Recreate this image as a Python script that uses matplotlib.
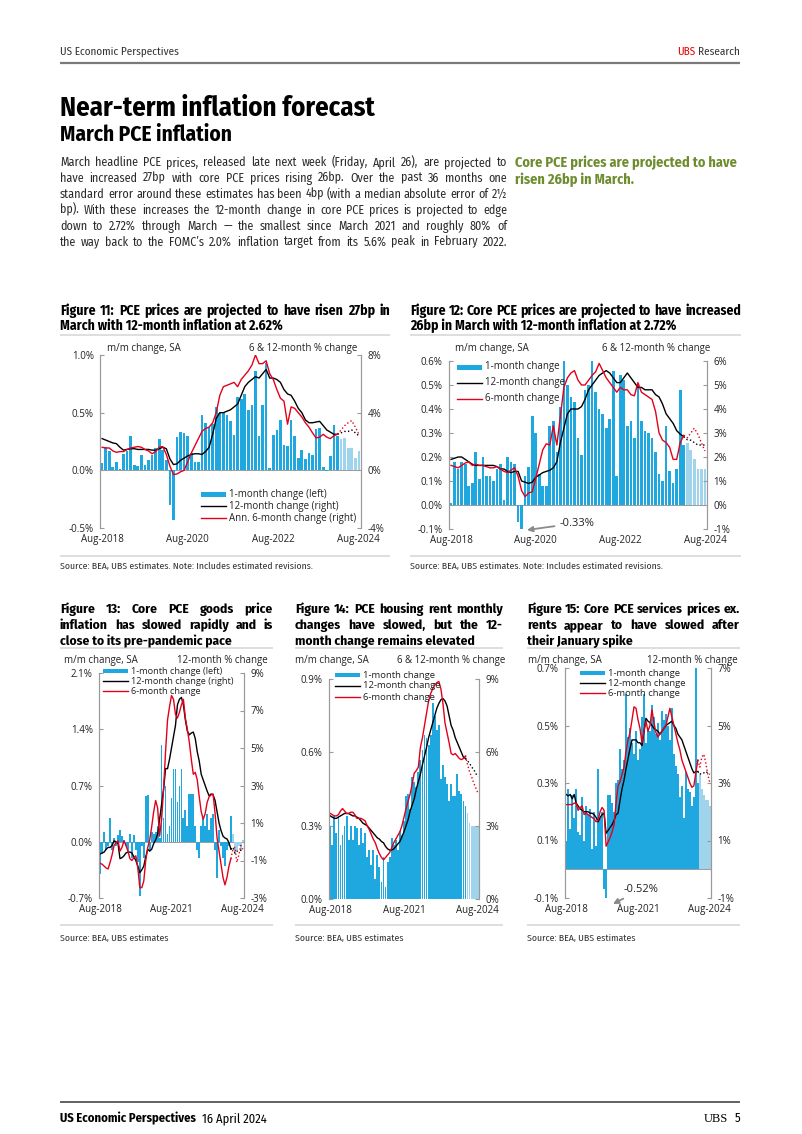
import numpy as np
import pandas as pd
import matplotlib
matplotlib.use('Agg')
import matplotlib.pyplot as plt
from matplotlib import font_manager as fm
from matplotlib.patches import Rectangle

# ---- data (monthly, Aug-2018 .. Aug-2024; Mar-2024 onward are UBS estimates) ----
months = pd.date_range('2018-08-01', '2024-08-01', freq='MS')
n_actual = 67  # through Feb-2024

# Figure 11: headline PCE
pce_mm = [0.06, 0.20, 0.17, 0.03, 0.07, 0.01, 0.14, 0.17, 0.30, 0.05, 0.04, 0.13,
          0.05, 0.09, 0.13, 0.19, 0.27, 0.18, 0.09, -0.30, -0.43,
          0.29, 0.33, 0.32, 0.30, 0.15, 0.07, 0.07, 0.48, 0.41, 0.38, 0.40,
          0.55, 0.50, 0.50, 0.48, 0.43, 0.31, 0.64, 0.62, 0.66, 0.52, 0.57, 0.86,
          0.30, 0.57, 0.93, 0.02, 0.31, 0.35, 0.44, 0.22, 0.21, 0.44, 0.30, 0.11,
          0.18, 0.10, 0.15, 0.13, 0.36, 0.37, 0.03, -0.01, 0.12, 0.39, 0.30,
          0.27, 0.28, 0.19, 0.19, 0.11, 0.17]
pce_12m = [2.2, 2.1, 2.0, 1.9, 1.85, 1.6, 1.4, 1.45, 1.5, 1.5, 1.45, 1.45,
           1.45, 1.45, 1.4, 1.4, 1.5, 1.6, 1.5, 0.8, 0.4, 0.45, 0.7, 0.85,
           1.0, 1.1, 1.15, 1.15, 1.1, 1.3, 1.6, 2.5, 3.6, 4.0, 4.0, 4.1,
           4.2, 4.4, 4.6, 5.2, 5.8, 6.1, 6.3, 6.5, 6.4, 6.7, 7.0, 6.4,
           6.4, 6.3, 6.1, 5.6, 5.3, 5.2, 4.8, 4.3, 4.0, 3.5, 3.3, 3.3,
           3.35, 3.4, 3.1, 2.8, 2.65, 2.5, 2.5, 2.6, 2.7, 2.7, 2.8, 2.6, 2.4]
pce_6m = [1.6, 1.55, 1.55, 1.35, 1.25, 1.3, 1.3, 1.45, 1.55, 1.6, 1.65, 1.6,
          1.45, 1.35, 1.15, 1.3, 1.6, 1.65, 1.1, 0.3, -0.3, -0.25, -0.1, 0.0,
          0.6, 1.2, 1.7, 2.2, 2.7, 2.9, 3.0, 3.3, 4.0, 5.2, 5.8, 5.9,
          6.0, 6.1, 5.8, 6.3, 6.6, 6.9, 7.3, 8.0, 7.4, 7.4, 7.6, 6.7,
          6.3, 5.6, 5.0, 4.8, 3.2, 4.4, 4.3, 4.0, 3.7, 3.3, 3.0, 2.6,
          2.25, 2.3, 2.5, 2.3, 2.2, 2.4, 2.5, 2.8, 3.1, 3.3, 3.45, 3.0, 2.5]

# Figure 12: core PCE
core_mm = [0.01, 0.18, 0.15, 0.18, 0.17, 0.08, 0.09, 0.22, 0.11, 0.20, 0.12, 0.12,
           0.10, 0.15, 0.17, 0.02, 0.20, 0.18, 0.17, -0.07, -0.33, 0.12, 0.16, 0.37,
           0.30, 0.13, 0.08, 0.08, 0.33, 0.35, 0.22, 0.41, 0.60, 0.50, 0.45, 0.43,
           0.28, 0.21, 0.48, 0.50, 0.60, 0.47, 0.40, 0.38, 0.32, 0.36, 0.56, 0.12,
           0.54, 0.52, 0.33, 0.35, 0.28, 0.50, 0.35, 0.31, 0.30, 0.28, 0.22, 0.13,
           0.10, 0.33, 0.14, 0.09, 0.15, 0.48, 0.25, 0.26, 0.23, 0.19, 0.15, 0.15, 0.15]
core_12m = [1.9, 1.95, 2.0, 2.0, 1.9, 1.8, 1.7, 1.65, 1.65, 1.65, 1.65, 1.65,
            1.65, 1.6, 1.5, 1.5, 1.4, 1.35, 1.4, 1.4, 1.0, 0.95, 0.9, 0.95,
            1.15, 1.25, 1.35, 1.4, 1.45, 1.55, 1.8, 2.6, 3.2, 3.8, 4.0, 4.0,
            4.0, 4.1, 4.4, 4.8, 5.0, 5.2, 5.4, 5.5, 5.6, 5.5, 5.3, 5.1,
            5.1, 5.3, 5.5, 5.3, 5.1, 4.9, 4.9, 4.8, 4.8, 4.8, 4.6, 4.5,
            4.2, 3.8, 3.6, 3.4, 3.1, 2.95, 2.85, 2.72, 2.7, 2.6, 2.5, 2.5, 2.5]
core_6m = [1.65, 1.6, 1.55, 1.65, 1.75, 1.8, 1.65, 1.7, 1.65, 1.65, 1.6, 1.55,
           1.55, 1.6, 1.5, 1.4, 1.35, 1.45, 1.55, 1.2, 0.6, 0.35, 0.5, 0.55,
           1.1, 1.7, 2.3, 2.55, 2.5, 3.3, 2.5, 3.7, 4.9, 5.3, 5.5, 5.6,
           5.2, 5.0, 5.0, 5.2, 5.4, 5.55, 5.9, 5.6, 5.3, 5.1, 4.9, 4.7,
           4.9, 4.8, 4.8, 4.6, 4.55, 5.1, 4.7, 4.6, 4.5, 4.4, 3.9, 3.0,
           2.7, 2.6, 2.4, 1.9, 1.9, 2.6, 2.9, 2.8, 3.0, 3.2, 2.95, 2.6, 2.25]

# Figure 13: core PCE goods
goods_mm = [-0.40, -0.15, 0.12, -0.10, -0.05, 0.30, -0.10, 0.05, -0.05, 0.08, 0.15, 0.07,
            0.02, -0.05, -0.12, 0.10, -0.20, 0.08, -0.10, -0.25, -0.68, -0.05, -0.20, 0.57,
            0.58, -0.10, 0.12, 0.10, 0.12, 0.20, 0.05, 1.20, 0.30, 0.70, 0.10, 0.20,
            0.55, 0.90, 0.90, 0.50, 0.70, 0.90, 0.30, 0.40, 0.20, 0.60, 0.60, 0.60,
            0.20, -0.10, -0.20, 0.20, 0.30, 0.20, 0.35, 0.15, 0.30, 0.35, -0.10, -0.45,
            0.15, -0.05, -0.20, -0.30, -0.10, -0.05, 0.32, 0.10, -0.15, -0.10, -0.05, -0.12, 0.02]
goods_12m = [-0.65, -0.6, -0.55, -0.4, -0.3, -0.3, -0.2, 0.05, 0.0, -0.1, -0.9, -0.85,
             -0.75, -0.6, -0.55, -0.55, -0.6, -0.8, -1.0, -1.3, -1.65, -1.5, -1.3, -0.8,
             -0.4, -0.5, -0.4, -0.1, 0.1, 0.4, 1.2, 2.0, 2.8, 3.9, 3.9, 4.4,
             5.0, 5.6, 6.2, 7.3, 7.6, 7.7, 7.3, 6.5, 5.9, 5.7, 5.8, 5.85,
             5.5, 4.8, 4.3, 3.6, 3.3, 3.0, 2.7, 2.45, 2.55, 2.5, 2.2, 1.6,
             1.0, 0.6, 0.3, 0.2, 0.15, -0.05, -0.4, -0.3, -0.6, -0.5, -0.5, -0.45, -0.4]
goods_6m = [-1.15, -1.2, -1.3, -1.4, -1.45, -1.1, -0.7, -0.2, -0.05, 0.05, -0.5, -0.3,
            0.05, -0.2, -0.5, -0.9, -1.0, -0.85, -0.75, -1.4, -2.45, -2.45, -2.1, -1.0,
            -0.3, 0.1, 0.8, 1.6, 2.2, 1.8, 0.3, 1.2, 2.8, 4.8, 6.5, 7.2,
            7.8, 7.6, 6.8, 6.6, 6.9, 7.3, 7.6, 6.6, 6.0, 5.3, 4.4, 3.6,
            3.7, 3.3, 2.4, 1.6, 1.2, 1.5, 2.1, 2.4, 2.5, 2.55, 1.5, 0.2,
            -0.5, -1.2, -1.9, -2.3, -1.9, -1.3, -0.9, -0.4, -0.3, -1.1, -0.7, -0.2, -0.4]

# Figure 14: PCE housing rent
rent_mm = [0.30, 0.22, 0.34, 0.27, 0.34, 0.22, 0.26, 0.30, 0.34, 0.24, 0.30, 0.24,
           0.30, 0.29, 0.22, 0.29, 0.23, 0.27, 0.17, 0.20, 0.14, 0.20, 0.08, 0.18,
           0.13, 0.07, 0.17, 0.05, 0.15, 0.17, 0.25, 0.22, 0.24, 0.20, 0.28, 0.26,
           0.32, 0.42, 0.43, 0.37, 0.50, 0.48, 0.46, 0.52, 0.57, 0.61, 0.67, 0.66,
           0.63, 0.67, 0.80, 0.75, 0.69, 0.71, 0.49, 0.55, 0.50, 0.47, 0.40, 0.47,
           0.42, 0.42, 0.51, 0.44, 0.43, 0.40, 0.38, 0.35, 0.31, 0.30, 0.30, 0.30, 0.30]
rent_12m = [3.4, 3.35, 3.3, 3.3, 3.35, 3.4, 3.45, 3.5, 3.5, 3.5, 3.45, 3.4,
            3.4, 3.35, 3.3, 3.2, 3.1, 3.05, 3.0, 2.9, 2.8, 2.7, 2.6, 2.5,
            2.45, 2.35, 2.3, 2.15, 2.05, 2.0, 2.0, 2.05, 2.15, 2.25, 2.35, 2.55,
            2.75, 3.0, 3.25, 3.6, 3.85, 4.1, 4.5, 4.8, 5.1, 5.5, 5.85, 6.2,
            6.6, 6.9, 7.2, 7.5, 7.8, 8.0, 8.15, 8.2, 8.1, 7.9, 7.5, 7.1,
            6.9, 6.6, 6.4, 6.2, 6.0, 5.8, 5.75, 5.65, 5.55, 5.4, 5.3, 5.15, 5.0]
rent_6m = [3.5, 3.45, 3.4, 3.4, 3.45, 3.6, 3.7, 3.6, 3.5, 3.5, 3.55, 3.55,
           3.45, 3.3, 3.3, 3.3, 3.25, 3.2, 3.0, 2.85, 2.65, 2.45, 2.3, 2.05,
           1.85, 1.7, 1.6, 1.7, 1.8, 1.9, 2.1, 2.3, 2.45, 2.6, 2.75, 3.0,
           3.35, 3.7, 4.0, 4.3, 4.7, 5.15, 5.25, 5.4, 6.2, 6.6, 7.1, 7.6,
           8.1, 8.4, 8.6, 8.75, 8.85, 8.9, 8.6, 8.0, 7.2, 6.8, 6.4, 5.95,
           5.9, 5.95, 5.85, 5.75, 5.7, 5.75, 5.85, 5.5, 5.2, 5.0, 4.75, 4.55, 4.35]

# Figure 15: core PCE services ex rents
svc_mm = [0.10, 0.28, 0.14, 0.26, 0.18, 0.28, 0.13, 0.12, 0.25, 0.10, 0.22, 0.19,
          0.21, 0.07, 0.20, 0.08, 0.35, 0.18, 0.20, -0.07, -0.52,
          0.26, 0.26, 0.23, 0.20, 0.30, 0.31, 0.42, 0.35, 0.38, 0.61, 0.46, 0.49,
          0.44, 0.40, 0.48, 0.38, 0.42, 0.53, 0.61, 0.44, 0.49, 0.48, 0.57, 0.53,
          0.47, 0.51, 0.45, 0.55, 0.52, 0.54, 0.50, 0.45, 0.56, 0.40, 0.36, 0.33,
          0.25, 0.29, 0.18, 0.34, 0.28, 0.27, 0.22, 0.25, 0.70, 0.30,
          0.33, 0.28, 0.26, 0.24, 0.24, 0.22]
svc_12m = [2.6, 2.55, 2.6, 2.45, 2.6, 2.3, 2.2, 2.1, 2.05, 2.0, 2.0, 2.0,
           1.95, 1.95, 1.9, 1.8, 1.65, 1.8, 1.9, 1.95, 1.25, 1.35, 1.45, 1.55,
           1.7, 1.9, 1.95, 2.4, 2.8, 3.1, 3.5, 3.85, 4.2, 4.5, 4.5, 4.5,
           4.4, 4.4, 4.3, 4.8, 5.25, 5.15, 5.1, 5.0, 4.9, 4.85, 4.8, 4.7,
           4.8, 4.9, 5.0, 5.05, 5.1, 5.15, 5.0, 4.9, 4.7, 4.6, 4.5, 4.3,
           4.1, 3.9, 3.7, 3.5, 3.35, 3.4, 3.4, 3.3, 3.35, 3.35, 3.4, 3.35, 3.3]
svc_6m = [2.25, 2.25, 2.25, 2.25, 2.3, 2.3, 2.05, 2.15, 2.2, 1.9, 1.95, 1.9,
          1.85, 1.8, 1.75, 1.65, 1.7, 2.0, 2.15, 2.05, 0.8, 0.95, 1.1, 1.3,
          1.55, 2.3, 2.9, 3.05, 3.3, 3.55, 4.1, 4.5, 4.75, 5.2, 5.65, 5.6,
          5.2, 4.9, 4.4, 4.8, 5.15, 4.8, 5.0, 5.55, 5.1, 4.75, 4.6, 4.7,
          4.8, 4.9, 5.0, 5.3, 5.6, 5.3, 5.0, 4.7, 4.4, 4.15, 3.8, 3.6,
          3.4, 3.2, 3.0, 2.85, 2.9, 3.35, 3.8, 3.55, 3.9, 4.0, 3.7, 3.3, 3.0]

# ---- style ----
names = {f.name for f in fm.fontManager.ttflist}
NARROW = next((n for n in ['Fira Sans Condensed', 'Cabin Condensed', 'Asap Condensed',
                           'Roboto Condensed', 'Liberation Sans Narrow'] if n in names), 'Liberation Sans')
CHART = 'Open Sans' if 'Open Sans' in names else 'DejaVu Sans'
FAM = [NARROW, 'DejaVu Sans']
BLUE = '#1fa8e0'
LIGHT = '#9fd4ec'
RED = '#e3001b'
GRID = '#9a9a9a'
SEP = '#d8d8d8'
TXT = '#222222'

W, H = 802, 1134
fig = plt.figure(figsize=(W / 100, H / 100), dpi=100)
x = np.arange(len(months))


def ax_px(l, t, r, b):
    return fig.add_axes([l / W, 1 - b / H, (r - l) / W, (b - t) / H])


def aug_ticks(years):
    pos = [i for i, m in enumerate(months) if m.month == 8 and m.year in years]
    return pos, [months[i].strftime('%b-%Y') for i in pos]


def chart(box, bars, l12, l6, ylim, yticks, rlim, rticks, years, bw=0.75):
    ax = ax_px(*box)
    cols = [BLUE if i < n_actual else LIGHT for i in range(len(x))]
    ax.bar(x, bars, width=bw, color=cols, linewidth=0, zorder=2)
    ax.axhline(0, color=GRID, lw=0.7, zorder=1)
    ax.set_xlim(-0.6, len(x) - 0.4)
    ax.set_ylim(*ylim)
    ax.set_yticks(yticks)
    ax.set_yticklabels([f'{v:.1f}%' for v in yticks])
    pos, labs = aug_ticks(years)
    ax.set_xticks(pos)
    ax.set_xticklabels(labs)
    ax2 = ax.twinx()
    l12 = np.array(l12)
    l6 = np.array(l6)
    k = n_actual
    ax2.plot(x[:k], l12[:k], color='black', lw=1.0)
    ax2.plot(x[k - 1:], l12[k - 1:], color='black', lw=1.0, ls=':')
    ax2.plot(x[:k], l6[:k], color=RED, lw=1.0)
    ax2.plot(x[k - 1:], l6[k - 1:], color=RED, lw=1.0, ls=':')
    ax2.set_ylim(*rlim)
    ax2.set_yticks(rticks)
    ax2.set_yticklabels([f'{v:.0f}%' for v in rticks])
    for a in (ax, ax2):
        a.spines['top'].set_visible(False)
        a.spines['bottom'].set_visible(False)
        a.spines['left'].set_color(GRID)
        a.spines['right'].set_color(GRID)
        a.tick_params(axis='y', direction='in', length=3, color=GRID, labelsize=7, pad=4.5, labelcolor=TXT)
        a.tick_params(axis='x', length=0, labelsize=7, pad=4, labelcolor=TXT)
        for t in a.get_xticklabels() + a.get_yticklabels():
            t.set_family(CHART)
    return ax


chart((100, 355, 361, 528), pce_mm, pce_12m, pce_6m, (-0.5, 1.0), [-0.5, 0.0, 0.5, 1.0],
      (-4, 8), [-4, 0, 4, 8], [2018, 2020, 2022, 2024])
chart((449, 361, 707, 529), core_mm, core_12m, core_6m, (-0.1, 0.6), [-0.1, 0, 0.1, 0.2, 0.3, 0.4, 0.5, 0.6],
      (-1, 6), [-1, 0, 1, 2, 3, 4, 5, 6], [2018, 2020, 2022, 2024])
chart((99, 673, 244, 898), goods_mm, goods_12m, goods_6m, (-0.7, 2.1), [-0.7, 0.0, 0.7, 1.4, 2.1],
      (-3, 9), [-3, -1, 1, 3, 5, 7, 9], [2018, 2021, 2024], bw=0.9)
chart((329, 679, 479, 899), rent_mm, rent_12m, rent_6m, (0, 0.9), [0.0, 0.3, 0.6, 0.9],
      (0, 9), [0, 3, 6, 9], [2018, 2021, 2024], bw=0.9)
chart((565, 668, 711, 898), svc_mm, svc_12m, svc_6m, (-0.1, 0.7), [-0.1, 0.1, 0.3, 0.5, 0.7],
      (-1, 7), [-1, 1, 3, 5, 7], [2018, 2021, 2024], bw=0.9)

# ---- page layer (pixel coordinates) ----
page = fig.add_axes([0, 0, 1, 1])
page.set_xlim(0, W)
page.set_ylim(H, 0)
page.axis('off')
page.patch.set_alpha(0)
R = fig.canvas.get_renderer()


def width(s, size, weight='normal', family=FAM):
    t = page.text(0, 500, s, fontsize=size, fontweight=weight, family=family)
    w = t.get_window_extent(R).width
    t.remove()
    return w


def fit(lines, target, size, weight='normal', slack=0.99):
    # font size at which the widest line, set with normal word spaces, fills the target width
    sp = width('a b', size, weight) - width('ab', size, weight)
    best = 1e9
    for s in lines:
        words = s.split(' ')
        nat = sum(width(w, size, weight) for w in words) + sp * (len(words) - 1)
        best = min(best, size * slack * target / nat)
    return best


def jline(x0, x1, y, s, size, weight='normal', color=TXT, justify=True):
    if not justify:
        page.text(x0, y, s, fontsize=size, fontweight=weight, color=color, family=FAM, va='baseline')
        return
    words = s.split(' ')
    ts = [page.text(0, y, w, fontsize=size, fontweight=weight, color=color,
                    family=FAM, va='baseline') for w in words]
    ws = [t.get_window_extent(R).width for t in ts]
    gap = (x1 - x0 - sum(ws)) / (len(words) - 1)
    xx = x0
    for t, w in zip(ts, ws):
        t.set_x(xx)
        xx += w + gap


def block(x0, x1, y0, dy, lines, size, weight='normal', color=TXT, last_just=False):
    for i, s in enumerate(lines):
        just = i < len(lines) - 1 or last_just
        jline(x0, x1, y0 + i * dy, s, size, weight, color, just)


def hline(x0, x1, y, color=SEP, lw=1.2):
    page.plot([x0, x1], [y, y], color=color, lw=lw, solid_capstyle='butt')


# header
page.text(60, 55, 'US Economic Perspectives', fontsize=8, family=FAM, color='#333333', va='baseline')
t = page.text(740, 55, 'Research', fontsize=8, family=FAM, color='#333333', va='baseline', ha='right')
wr = t.get_window_extent(R).width
page.text(740 - wr - 2.5, 55, 'UBS', fontsize=8, family=FAM, color='#e60000', va='baseline', ha='right')
hline(60, 740, 63, '#7a7a7a', 1.6)

tt = page.text(60, 116, 'Near-term inflation forecast', fontsize=20, fontweight='bold', family=FAM,
               color='black', va='baseline')
tt.set_fontsize(20 * 315 / tt.get_window_extent(R).width)
ts_ = page.text(60, 141, 'March PCE inflation', fontsize=15, fontweight='bold', family=FAM,
                color='black', va='baseline')
ts_.set_fontsize(15 * 173 / ts_.get_window_extent(R).width)

para = ['March headline PCE prices, released late next week (Friday, April 26), are projected to',
        'have increased 27bp with core PCE prices rising 26bp. Over the past 36 months one',
        'standard error around these estimates has been 4bp (with a median absolute error of 2½',
        'bp). With these increases the 12-month change in core PCE prices is projected to edge',
        'down to 2.72% through March — the smallest since March 2021 and roughly 80% of',
        'the way back to the FOMC’s 2.0% inflation target from its 5.6% peak in February 2022.']
psize = fit(para, 447, 9.0)
block(60, 507, 166, 15.9, para, psize, color='#2a2a2a', last_just=True)

note = ['Core PCE prices are projected to have', 'risen 26bp in March.']
nsize = fit(note[:1], 222, 9.0, 'bold', 1.0)
for i, s in enumerate(note):
    page.text(515, 167 + i * 17, s, fontsize=nsize, fontweight='bold',
              family=FAM, color='#6e8d2f', va='baseline')

# figure titles
t11 = ['Figure 11: PCE prices are projected to have risen 27bp in',
       'March with 12-month inflation at 2.62%']
t12 = ['Figure 12: Core PCE prices are projected to have increased',
       '26bp in March with 12-month inflation at 2.72%']
fs = min(fit(t11, 330, 8.8, 'bold', 0.97), fit(t12, 331, 8.8, 'bold'))
block(60, 390, 315, 15, t11, fs, 'bold', 'black')
block(410, 741, 315, 15, t12, fs, 'bold', 'black')

t13 = ['Figure 13: Core PCE goods price', 'inflation has slowed rapidly and is', 'close to its pre-pandemic pace']
t14 = ['Figure 14: PCE housing rent monthly', 'changes have slowed, but the 12-', 'month change remains elevated']
t15 = ['Figure 15: Core PCE services prices ex.', 'rents appear to have slowed after', 'their January spike']
fs2 = min(fs, fit(t13, 213, fs, 'bold', 0.9), fit(t14, 208, fs, 'bold', 0.97), fit(t15, 213, fs, 'bold'))
block(60, 273, 613, 16, t13, fs2, 'bold', 'black')
block(295, 503, 613, 16, t14, fs2, 'bold', 'black')
block(527, 740, 613, 16, t15, fs2, 'bold', 'black')

# separators
for a, b in [(60, 390), (410, 741)]:
    hline(a, b, 335)
    hline(a, b, 556)
for a, b in [(60, 273), (295, 503), (527, 740)]:
    hline(a, b, 648)
    hline(a, b, 925)

# sources
src1 = 'Source: BEA, UBS estimates. Note: Includes estimated revisions.'
ssize = fit([src1], 252, 7.0, slack=1.0)
for xs in (60, 410):
    page.text(xs, 569, src1, fontsize=ssize, family=FAM, color='#333333', va='baseline')
for xs in (60, 295, 527):
    page.text(xs, 941, 'Source: BEA, UBS estimates', fontsize=ssize, family=FAM, color='#333333', va='baseline')

# chart header labels
CS = 7
for xl, xr, y, rtxt in [(107, 357, 349, '6 & 12-month % change'),
                        (455, 710, 349, '6 & 12-month % change'),
                        (64, 268, 660, '12-month % change'),
                        (295, 505, 660, '6 & 12-month % change'),
                        (528, 738, 660, '12-month % change')]:
    page.text(xl, y, 'm/m change, SA', fontsize=CS, family=CHART, color=TXT, va='center')
    page.text(xr, y, rtxt, fontsize=CS, family=CHART, color=TXT, va='center', ha='right')


def legend(hx, ys, labels, size=CS, bar_h=5):
    tx = hx + 28
    page.add_patch(Rectangle((hx, ys[0] - bar_h / 2), 25, bar_h, color=BLUE, lw=0))
    page.plot([hx, hx + 25], [ys[1], ys[1]], color='black', lw=1.0)
    page.plot([hx, hx + 25], [ys[2], ys[2]], color=RED, lw=1.0)
    for y, s in zip(ys, labels):
        page.text(tx, y, s, fontsize=size, family=CHART, color=TXT, va='center')


legend(201, [494, 506, 518], ['1-month change (left)', '12-month change (right)', 'Ann. 6-month change (right)'])
legend(457, [367, 383, 399], ['1-month change', '12-month change', '6-month change'])
legend(103, [671, 681, 691], ['1-month change (left)', '12-month change (right)', '6-month change'], 6.6, 4)
legend(335, [675, 686, 697], ['1-month change', '12-month change', '6-month change'], 6.8, 4)
legend(580, [673, 683, 693], ['1-month change', '12-month change', '6-month change'], 6.8, 4)

# annotations for clipped bars
page.annotate('-0.33%', xy=(527, 530), xytext=(560, 523), fontsize=8, family=CHART, color=TXT,
              va='center', arrowprops=dict(arrowstyle='-|>', color='#8a8a8a', lw=1.3, shrinkA=2, shrinkB=0))
page.annotate('-0.52%', xy=(613, 904), xytext=(624, 889), fontsize=8, family=CHART, color=TXT,
              va='center', arrowprops=dict(arrowstyle='-|>', color='#8a8a8a', lw=1.3, shrinkA=2, shrinkB=0))

# footer
hline(60, 740, 1102, '#555555', 1.3)
t = page.text(60, 1122, 'US Economic Perspectives', fontsize=9, fontweight='bold', family=FAM,
              color='black', va='baseline')
wf = t.get_window_extent(R).width
page.text(60 + wf + 6, 1122, '16 April 2024', fontsize=9, family=FAM, color='black', va='baseline')
page.text(740, 1122, '5', fontsize=9, family=FAM, color='black', va='baseline', ha='right')
page.text(728, 1122, 'UBS', fontsize=9, family='Liberation Serif', color='black', va='baseline', ha='right')

fig.savefig('out.png', dpi=100)
